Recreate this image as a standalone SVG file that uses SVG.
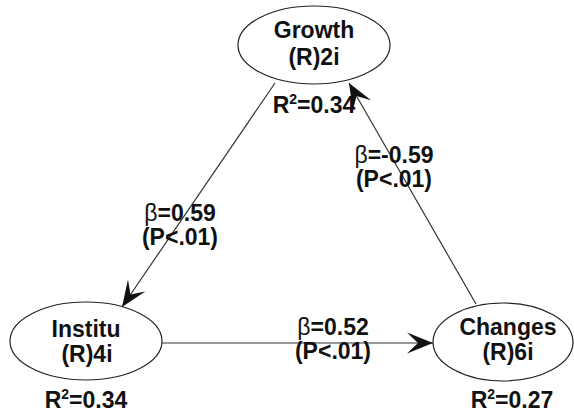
<svg xmlns="http://www.w3.org/2000/svg" width="574" height="414" viewBox="0 0 574 414">
<defs>
<style>
.node ellipse{fill:#fff;stroke:#222;stroke-width:1.2}
text{font-family:"Liberation Sans",Arial,sans-serif;font-weight:bold;font-size:23px;fill:#111;text-anchor:middle}
.b{font-weight:normal}
.sup{font-size:14px}
.edge{stroke:#333;stroke-width:1.2;fill:none}
</style>
<marker id="ah" markerUnits="userSpaceOnUse" markerWidth="30" markerHeight="24" viewBox="-27 -12 30 24" refX="0" refY="0" orient="auto">
<path d="M0,0 L-26,-10.5 L-15,0 L-26,10.5 Z" fill="#111"/>
</marker>
</defs>
<rect width="574" height="414" fill="#fff"/>
<g id="connectors">
<line class="edge" x1="275" y1="83" x2="122" y2="307" marker-end="url(#ah)"/>
<line class="edge" x1="162" y1="343" x2="433" y2="343" marker-end="url(#ah)"/>
<line class="edge" x1="476" y1="304" x2="349" y2="83" marker-end="url(#ah)"/>
<text x="180" y="221"><tspan class="b">β</tspan>=0.59</text>
<text x="180" y="245">(P&lt;.01)</text>
<text x="333" y="335"><tspan class="b">β</tspan>=0.52</text>
<text x="333" y="359">(P&lt;.01)</text>
<text x="394" y="163"><tspan class="b">β</tspan>=-0.59</text>
<text x="394" y="187">(P&lt;.01)</text>
</g>
<g id="growth" class="node">
<ellipse cx="314" cy="45" rx="76" ry="39"/>
<text x="314" y="38">Growth</text>
<text x="314" y="65">(R)2i</text>
<text x="314" y="113">R<tspan class="sup" dy="-9">2</tspan><tspan dy="9">=0.34</tspan></text>
</g>
<g id="institu" class="node">
<ellipse cx="86" cy="341" rx="76" ry="39"/>
<text x="86" y="337">Institu</text>
<text x="87" y="362">(R)4i</text>
<text x="86" y="408">R<tspan class="sup" dy="-9">2</tspan><tspan dy="9">=0.34</tspan></text>
</g>
<g id="changes" class="node">
<ellipse cx="503" cy="342" rx="70" ry="39"/>
<text x="508" y="335">Changes</text>
<text x="508" y="360">(R)6i</text>
<text x="512" y="408">R<tspan class="sup" dy="-9">2</tspan><tspan dy="9">=0.27</tspan></text>
</g>
</svg>
